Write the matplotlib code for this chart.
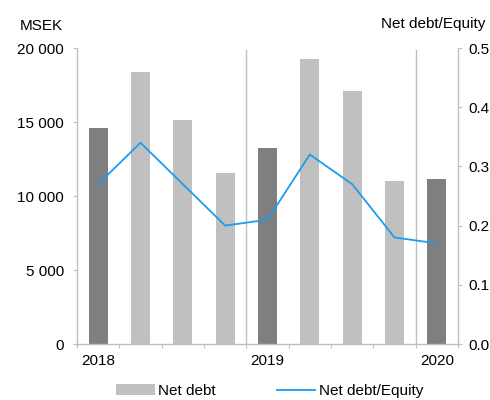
import matplotlib
matplotlib.use("Agg")
import matplotlib.pyplot as plt
from matplotlib.patches import Patch
from matplotlib.lines import Line2D
from matplotlib.ticker import FuncFormatter

plt.rcParams['font.family'] = ['Liberation Sans', 'DejaVu Sans']

quarters = ["Q1 2018", "Q2 2018", "Q3 2018", "Q4 2018", "Q1 2019",
            "Q2 2019", "Q3 2019", "Q4 2019", "Q1 2020"]
net_debt = [14600, 18400, 15130, 11550, 13250, 19250, 17100, 11000, 11150]
ratio = [0.27, 0.34, 0.27, 0.20, 0.21, 0.32, 0.27, 0.18, 0.17]
year_labels = ["2018", "2019", "2020"]
year_pos = [0, 4, 8]

dark = "#7f7f7f"
light = "#c0c0c0"
axis_col = "#bfbfbf"
blue = "#1a9cf0"

fig = plt.figure(figsize=(4.9, 4.0), dpi=100)
ax = fig.add_axes([77/490, 56/400, (458-77)/490, (344-48)/400])
x = list(range(len(net_debt)))
colors = [dark if i in year_pos else light for i in x]
ax.bar(x, net_debt, width=0.45, color=colors, zorder=2)
ax.set_xlim(-0.5, 8.5)
ax.set_ylim(0, 20000)
ax.set_yticks([0, 5000, 10000, 15000, 20000])
ax.yaxis.set_major_formatter(FuncFormatter(lambda v, p: f"{int(v):,}".replace(",", " ")))

# separators between years
for sx in [3.5, 7.5]:
    ax.plot([sx, sx], [0, 19850], color=axis_col, lw=1.0, zorder=1)

for s in ["top", "right"]:
    ax.spines[s].set_visible(False)
for s in ["left", "bottom"]:
    ax.spines[s].set_color(axis_col)
    ax.spines[s].set_linewidth(1.0)

ax.set_xticks([i - 0.5 for i in range(10)])
ax.set_xticklabels([])
ax.set_xticks(year_pos, minor=True)
ax.set_xticklabels(year_labels, minor=True)
ax.tick_params(axis='x', which='major', length=3, color=axis_col, direction='out')
ax.tick_params(axis='x', which='minor', length=0, pad=7, labelsize=11)
ax.tick_params(axis='y', length=3, color=axis_col, labelsize=11, pad=6.5)

ax2 = ax.twinx()
ax2.plot(x, ratio, color=blue, lw=1.3, zorder=3)
ax2.set_ylim(0, 0.5)
ax2.set_yticks([0, 0.1, 0.2, 0.3, 0.4, 0.5])
ax2.yaxis.set_major_formatter(FuncFormatter(lambda v, p: f"{v:.1f}"))
for s in ["top", "left", "bottom"]:
    ax2.spines[s].set_visible(False)
ax2.spines["right"].set_color(axis_col)
ax2.spines["right"].set_linewidth(1.0)
ax2.tick_params(axis='y', length=3, color=axis_col, labelsize=11, pad=4.5)

fig.text(20/490, 1 - 26/400, "MSEK", fontsize=11, va='center', ha='left')
fig.text(485/490, 1 - 24/400, "Net debt/Equity", fontsize=11, va='center', ha='right')

handles = [Patch(facecolor=light, edgecolor='none'),
           Line2D([0], [0], color=blue, lw=1.3)]
fig.legend(handles, ["Net debt", "Net debt/Equity"], loc='center',
           bbox_to_anchor=(270/490, 1 - 391/400), ncol=2, frameon=False,
           fontsize=11, handlelength=2.5, handleheight=0.7, handletextpad=0.25,
           columnspacing=4.0)

fig.savefig("out.png", dpi=100)
